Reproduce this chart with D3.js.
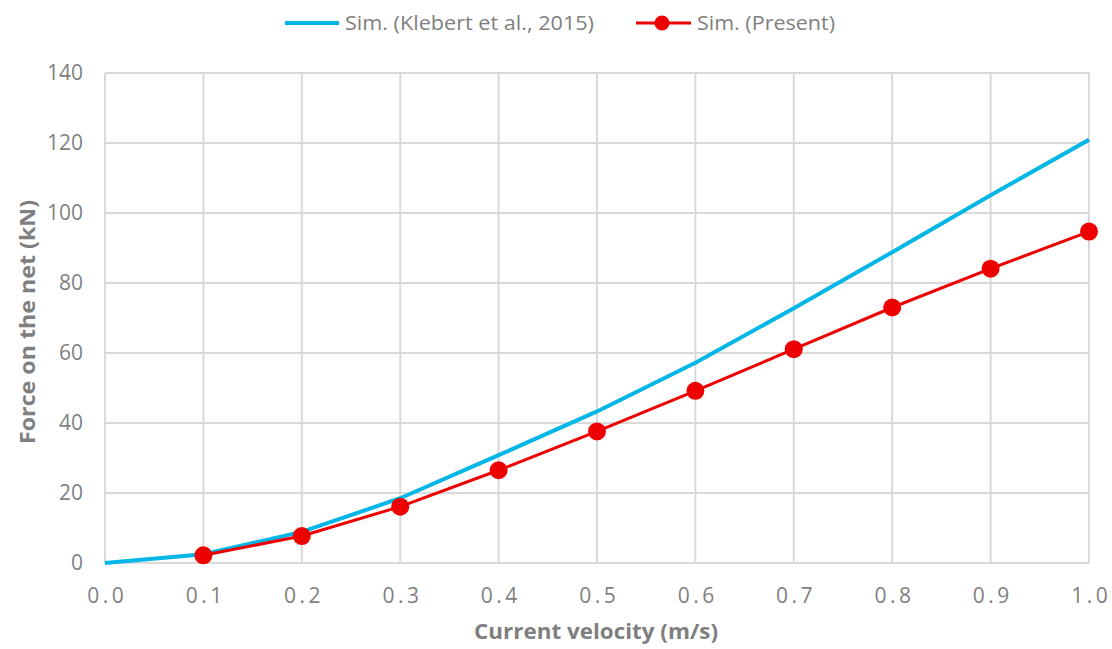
<!DOCTYPE html>
<html>
<head>
<meta charset="utf-8">
<script src="https://cdn.jsdelivr.net/npm/d3@7"></script>
<style>
  body { margin: 0; background: #fff; }
  svg text { font-family: "Open Sans", Lato, sans-serif; }
</style>
</head>
<body>
<svg id="chart" width="1112" height="649"></svg>
<script>
// Current velocity (m/s)
const velocity = [0.0, 0.1, 0.2, 0.3, 0.4, 0.5, 0.6, 0.7, 0.8, 0.9, 1.0];
// Force on the net (kN), Klebert et al. (2015) simulation
const forceKlebert = [0, 2.5, 8.9, 18.5, 30.8, 43.3, 57.2, 72.8, 88.8, 105.1, 120.9];
// Present simulation (starts at 0.1 m/s)
const velocityPresent = [0.1, 0.2, 0.3, 0.4, 0.5, 0.6, 0.7, 0.8, 0.9, 1.0];
const forcePresent = [2.2, 7.7, 16.1, 26.5, 37.6, 49.2, 61.1, 73.0, 84.1, 94.7];
const xTicks = [0.0, 0.1, 0.2, 0.3, 0.4, 0.5, 0.6, 0.7, 0.8, 0.9, 1.0];
const yTicks = [0, 20, 40, 60, 80, 100, 120, 140];
const seriesNames = ["Sim. (Klebert et al., 2015)", "Sim. (Present)"];

const svg = d3.select("#chart");
const plot = { left: 105, right: 1089, top: 73, bottom: 563 };
const x = d3.scaleLinear().domain([0, 1]).range([plot.left, plot.right]);
const y = d3.scaleLinear().domain([0, 140]).range([plot.bottom, plot.top]);

const gridColor = "#d9d9d9";
const textColor = "#7f7f7f";
const blue = "#00b6e6";
const red = "#ee0000";

// Gridlines
const grid = svg.append("g");
grid.selectAll("line.h").data(yTicks).join("line")
  .attr("x1", x(0)).attr("x2", x(1))
  .attr("y1", d => y(d)).attr("y2", d => y(d))
  .attr("stroke", gridColor).attr("stroke-width", 2);
grid.selectAll("line.v").data(xTicks).join("line")
  .attr("y1", y(0)).attr("y2", y(140))
  .attr("x1", d => x(d)).attr("x2", d => x(d))
  .attr("stroke", gridColor).attr("stroke-width", 2);

// Axes (labels only, no domain line)
const yAxis = svg.append("g").attr("transform", `translate(${x(0)},0)`)
  .call(d3.axisLeft(y).tickValues(yTicks).tickSize(0).tickPadding(22).tickFormat(d3.format("d")));
yAxis.select(".domain").remove();
yAxis.selectAll("text").attr("fill", textColor).style("font-size", "21px");

const xAxis = svg.append("g").attr("transform", `translate(0,${y(0)})`)
  .call(d3.axisBottom(x).tickValues(xTicks).tickSize(0).tickPadding(25).tickFormat(d3.format(".1f")));
xAxis.select(".domain").remove();
xAxis.selectAll("text").attr("fill", textColor).style("font-size", "21px")
  .style("letter-spacing", "3.5px").attr("dx", "1.75");

// Axis titles
svg.append("text").attr("x", 596).attr("y", 639)
  .attr("text-anchor", "middle").attr("fill", textColor)
  .attr("textLength", 244).attr("lengthAdjust", "spacingAndGlyphs")
  .style("font-size", "21px").style("font-weight", "bold")
  .text("Current velocity (m/s)");
svg.append("text").attr("transform", `translate(35,322) rotate(-90)`)
  .attr("text-anchor", "middle").attr("fill", textColor)
  .attr("textLength", 244).attr("lengthAdjust", "spacingAndGlyphs")
  .style("font-size", "21px").style("font-weight", "bold")
  .text("Force on the net (kN)");

// Series lines and markers
const line = d3.line().x(d => x(d[0])).y(d => y(d[1]));
svg.append("path").datum(velocity.map((v, i) => [v, forceKlebert[i]]))
  .attr("d", line).attr("fill", "none").attr("stroke", blue).attr("stroke-width", 4);
const present = velocityPresent.map((v, i) => [v, forcePresent[i]]);
svg.append("path").datum(present)
  .attr("d", line).attr("fill", "none").attr("stroke", red).attr("stroke-width", 3);
svg.selectAll("circle.pt").data(present).join("circle")
  .attr("cx", d => x(d[0])).attr("cy", d => y(d[1])).attr("r", 9).attr("fill", red);

// Legend
const leg = svg.append("g");
leg.append("line").attr("x1", 285).attr("x2", 339).attr("y1", 23).attr("y2", 23)
  .attr("stroke", blue).attr("stroke-width", 4);
leg.append("text").attr("x", 345).attr("y", 30).attr("fill", textColor)
  .attr("textLength", 249).attr("lengthAdjust", "spacingAndGlyphs")
  .style("font-size", "20px").text(seriesNames[0]);
leg.append("line").attr("x1", 636).attr("x2", 691).attr("y1", 23).attr("y2", 23)
  .attr("stroke", red).attr("stroke-width", 3);
leg.append("circle").attr("cx", 662).attr("cy", 23).attr("r", 7.5).attr("fill", red);
leg.append("text").attr("x", 697).attr("y", 30).attr("fill", textColor)
  .attr("textLength", 138).attr("lengthAdjust", "spacingAndGlyphs")
  .style("font-size", "20px").text(seriesNames[1]);
</script>
</body>
</html>
